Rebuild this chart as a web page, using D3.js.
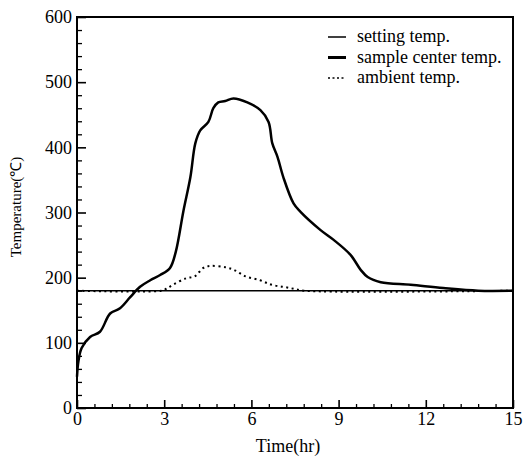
<!DOCTYPE html>
<html>
<head>
<meta charset="utf-8">
<script src="https://cdn.jsdelivr.net/npm/d3@7"></script>
<style>
  body { margin: 0; background: #fff; }
  text { font-family: "Liberation Serif", "Times New Roman", serif; fill: #000; }
</style>
</head>
<body>
<svg id="chart"></svg>
<script>
// time (hr) / temperature (C)
var sampleTime = [0, 0.05, 0.16, 0.45, 0.79, 1.14, 1.48, 1.83, 2.17, 2.52, 2.86, 3.2, 3.4, 3.66, 3.9, 4.07, 4.24, 4.52, 4.69, 4.86, 5.1, 5.38, 5.86, 6.31, 6.59, 6.72, 6.9, 7.1, 7.45, 7.69, 8.38, 8.83, 9.41, 9.76, 10.0, 10.45, 11.48, 12.6, 13.8, 15];
var sampleTemp = [48, 72, 92, 109, 117, 145, 153, 170, 186, 196, 204, 215, 240, 302, 354, 406, 426, 439, 460, 469, 471, 475, 469, 457, 439, 406, 385, 354, 314, 301, 273, 258, 235, 212, 201, 193, 189, 184, 180, 180];
var ambientTime = [0, 2.9, 3.07, 3.3, 3.75, 4.05, 4.35, 4.6, 5.1, 5.4, 5.8, 6.3, 6.7, 7.1, 7.45, 7.8, 15];
var ambientTemp = [180, 180, 183, 189, 199, 202, 215, 218, 216, 212, 202, 196, 189, 186, 183, 180, 180];
var settingTime = [0, 15];
var settingTemp = [180, 180];
var xTicks = [0, 3, 6, 9, 12, 15];
var yTicks = [0, 100, 200, 300, 400, 500, 600];
var legendLabels = ["setting temp.", "sample center temp.", "ambient temp."];

var width = 524, height = 468;
var plotL = 77, plotR = 513, plotT = 17, plotB = 408;

var svg = d3.select("#chart")
  .attr("width", width)
  .attr("height", height);

var x = d3.scaleLinear().domain([0, 15]).range([plotL, plotR]);
var y = d3.scaleLinear().domain([0, 600]).range([plotB, plotT]);

function pairs(ts, vs) {
  return ts.map(function(t, i) { return [t, vs[i]]; });
}

var line = d3.line()
  .x(function(d) { return x(d[0]); })
  .y(function(d) { return y(d[1]); })
  .curve(d3.curveCatmullRom);

// frame
svg.append("rect")
  .attr("x", plotL)
  .attr("y", plotT)
  .attr("width", plotR - plotL)
  .attr("height", plotB - plotT)
  .attr("fill", "none")
  .attr("stroke", "#000")
  .attr("stroke-width", 2);

// minor ticks, inward
var xMinor = d3.range(0, 15.01, 0.6).filter(function(v) { return Math.abs(v / 3 - Math.round(v / 3)) > 0.01; });
var yMinor = d3.range(0, 601, 20).filter(function(v) { return v % 100 != 0; });

function styleTicks(g, w) {
  g.select(".domain").remove();
  g.selectAll(".tick line").attr("stroke", "#000").attr("stroke-width", w);
}

svg.append("g")
  .attr("transform", "translate(0," + plotB + ")")
  .call(d3.axisBottom(x).tickValues(xMinor).tickSize(-4).tickFormat(""))
  .call(styleTicks, 1.3);

svg.append("g")
  .attr("transform", "translate(" + plotL + ",0)")
  .call(d3.axisLeft(y).tickValues(yMinor).tickSize(-5).tickFormat(""))
  .call(styleTicks, 1.3);

// major ticks with labels
svg.append("g")
  .attr("transform", "translate(0," + plotB + ")")
  .call(d3.axisBottom(x).tickValues(xTicks).tickSize(-8).tickPadding(4).tickFormat(d3.format("d")))
  .call(styleTicks, 1.6)
  .call(function(g) {
    g.selectAll("text").attr("font-size", 18).attr("font-family", "Liberation Serif");
  });

svg.append("g")
  .attr("transform", "translate(" + plotL + ",0)")
  .call(d3.axisLeft(y).tickValues(yTicks).tickSize(-9).tickPadding(5).tickFormat(d3.format("d")))
  .call(styleTicks, 1.6)
  .call(function(g) {
    g.selectAll("text").attr("font-size", 18).attr("font-family", "Liberation Serif");
  });

// curves
svg.append("path")
  .datum(pairs(settingTime, settingTemp))
  .attr("d", line)
  .attr("fill", "none")
  .attr("stroke", "#000")
  .attr("stroke-width", 1.5);

svg.append("path")
  .datum(pairs(ambientTime, ambientTemp))
  .attr("d", line)
  .attr("fill", "none")
  .attr("stroke", "#000")
  .attr("stroke-width", 2)
  .attr("stroke-dasharray", "2,3.5");

svg.append("path")
  .datum(pairs(sampleTime, sampleTemp))
  .attr("d", line)
  .attr("fill", "none")
  .attr("stroke", "#000")
  .attr("stroke-width", 2.5);

// axis titles
svg.append("text")
  .attr("x", 288)
  .attr("y", 452)
  .attr("text-anchor", "middle")
  .attr("font-size", 18)
  .text("Time(hr)");

svg.append("text")
  .attr("transform", "translate(21,207) rotate(-90)")
  .attr("text-anchor", "middle")
  .attr("font-size", 15)
  .text("Temperature(℃)");

// legend
var legend = svg.selectAll(".legend")
  .data(legendLabels)
  .enter().append("g")
  .attr("class", "legend")
  .attr("transform", function(d, i) { return "translate(0," + (42 + i * 20.5) + ")"; });

legend.append("line")
  .attr("x1", 328)
  .attr("x2", 346)
  .attr("y1", -5)
  .attr("y2", -5)
  .attr("stroke", "#000")
  .attr("stroke-width", function(d, i) { return i == 1 ? 3 : 1.5; })
  .attr("stroke-dasharray", function(d, i) { return i == 2 ? "2,2.5" : null; });

legend.append("text")
  .attr("x", 357)
  .attr("y", 0)
  .attr("font-size", 18)
  .text(function(d) { return d; });
</script>
</body>
</html>
